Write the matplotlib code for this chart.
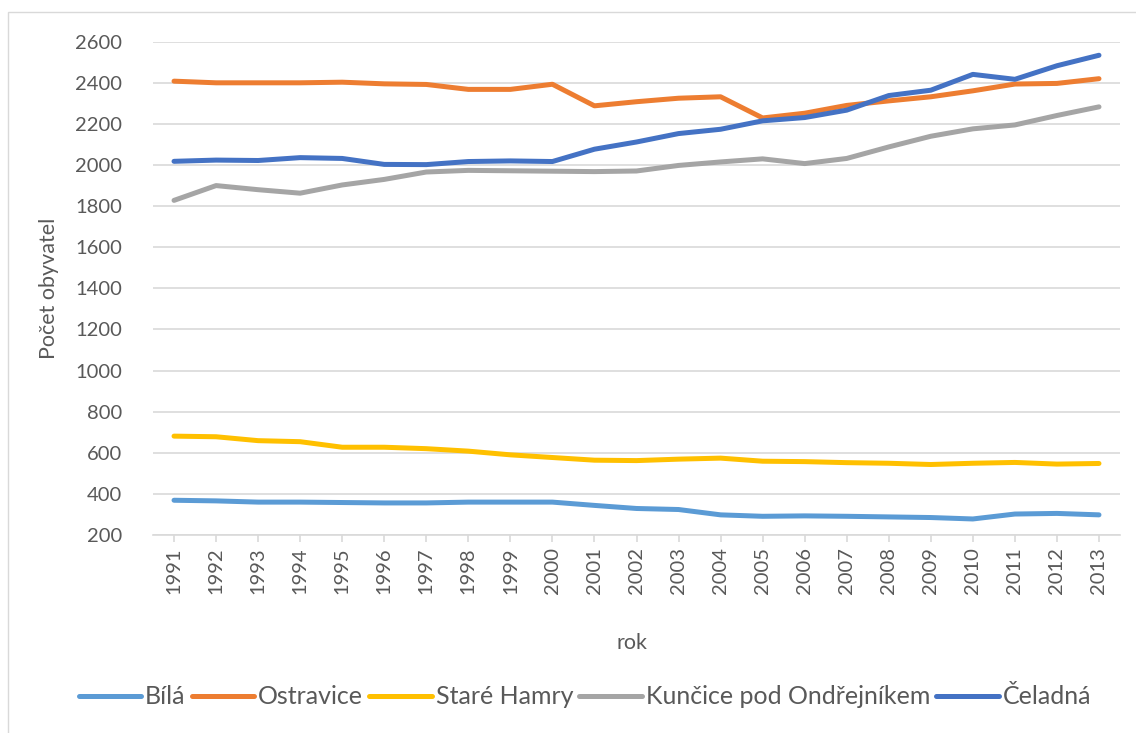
import matplotlib
matplotlib.use("Agg")
import matplotlib.pyplot as plt
from matplotlib.patches import Rectangle

plt.rcParams["font.family"] = ["Lato", "DejaVu Sans"]

roky = list(range(1991, 2014))
bila = [369, 366, 360, 360, 358, 356, 356, 360, 360, 360, 344, 329,
        324, 298, 291, 293, 291, 288, 285, 278, 302, 305, 298]
ostravice = [2408, 2400, 2400, 2400, 2403, 2395, 2392, 2368, 2368, 2393, 2288, 2308,
             2325, 2332, 2229, 2252, 2290, 2312, 2332, 2361, 2394, 2397, 2420]
stare_hamry = [681, 678, 659, 654, 627, 627, 620, 608, 590, 577, 564, 562,
               569, 574, 559, 557, 552, 549, 543, 549, 553, 545, 548]
kuncice = [1828, 1900, 1880, 1863, 1903, 1930, 1966, 1974, 1972, 1970, 1968, 1971,
           1998, 2015, 2030, 2007, 2032, 2088, 2140, 2176, 2195, 2241, 2283]
celadna = [2018, 2024, 2022, 2036, 2032, 2003, 2002, 2017, 2020, 2017, 2077, 2112,
           2153, 2174, 2215, 2231, 2267, 2338, 2364, 2441, 2417, 2483, 2534]

serie = [("Bílá", bila, "#5B9BD5"),
         ("Ostravice", ostravice, "#ED7D31"),
         ("Staré Hamry", stare_hamry, "#FFC000"),
         ("Kunčice pod Ondřejníkem", kuncice, "#A5A5A5"),
         ("Čeladná", celadna, "#4472C4")]

W, H = 1136, 733
fig = plt.figure(figsize=(W / 100, H / 100), dpi=100)
fig.patches.append(Rectangle((8 / W, -0.1), 1.2, 1 - 12 / H + 0.1, transform=fig.transFigure,
                             fill=False, edgecolor="#D9D9D9", lw=1))

ax = fig.add_axes([153 / W, 1 - 535 / H, (1120 - 153) / W, (535 - 41.7) / H])
txt = "#595959"
for nazev, hodnoty, barva in serie:
    ax.plot(roky, hodnoty, color=barva, lw=3.6, solid_capstyle="round", label=nazev, zorder=3)

ax.set_xlim(1990.5, 2013.5)
ax.set_ylim(200, 2600)
ax.set_yticks(range(200, 2601, 200))
ax.set_xticks(roky)
ax.set_xticklabels([str(r) for r in roky], rotation=90)
ax.grid(axis="y", color="#D9D9D9", lw=1.2)
ax.set_axisbelow(True)
for s in ["top", "right", "left"]:
    ax.spines[s].set_visible(False)
ax.spines["bottom"].set_color("#D9D9D9")
ax.spines["bottom"].set_linewidth(1.2)
ax.tick_params(axis="y", length=0, pad=22, labelsize=14.5, labelcolor=txt)
ax.tick_params(axis="x", length=5, color="#D9D9D9", width=1.2, pad=4, labelsize=14.5, labelcolor=txt)

ax.set_ylabel("Počet obyvatel", fontsize=15.5, color=txt, labelpad=12)
fig.text(632 / W, 1 - 643 / H, "rok", fontsize=15.5, color=txt, ha="center", va="center")

fig.legend(loc="center", bbox_to_anchor=(585 / W, 1 - 697 / H), ncol=5, frameon=False,
           fontsize=18, labelcolor=txt, handlelength=2.5, handletextpad=0.15, columnspacing=0.25)

fig.savefig("out.png", dpi=100)
